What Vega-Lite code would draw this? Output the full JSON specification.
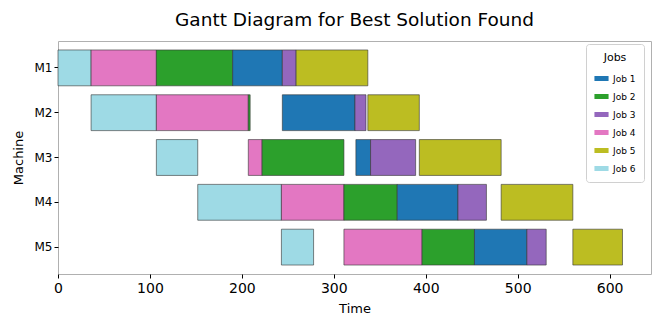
{
  "$schema": "https://vega.github.io/schema/vega-lite/v6.json",
  "width": 593,
  "height": 233,
  "autosize": {"type": "none"},
  "padding": {"left": 58, "top": 41, "right": 3, "bottom": 42},
  "background": "white",
  "title": {"text": "Gantt Diagram for Best Solution Found", "font": "DejaVu Sans", "fontSize": 18.5, "fontWeight": "normal", "color": "black", "offset": 12, "anchor": "middle"},
  "config": {
    "view": {"stroke": "#b0b0b0", "strokeWidth": 1},
    "font": "DejaVu Sans"
  },
  "data": {
    "values": [
      {"machine": "M1", "job": "Job 6", "start": 0, "end": 36},
      {"machine": "M1", "job": "Job 4", "start": 36, "end": 107},
      {"machine": "M1", "job": "Job 2", "start": 107, "end": 190},
      {"machine": "M1", "job": "Job 1", "start": 190, "end": 244},
      {"machine": "M1", "job": "Job 3", "start": 244, "end": 259},
      {"machine": "M1", "job": "Job 5", "start": 259, "end": 337},
      {"machine": "M2", "job": "Job 6", "start": 36, "end": 107},
      {"machine": "M2", "job": "Job 4", "start": 107, "end": 207},
      {"machine": "M2", "job": "Job 2", "start": 207, "end": 209},
      {"machine": "M2", "job": "Job 1", "start": 244, "end": 323},
      {"machine": "M2", "job": "Job 3", "start": 323, "end": 335},
      {"machine": "M2", "job": "Job 5", "start": 337, "end": 393},
      {"machine": "M3", "job": "Job 6", "start": 107, "end": 152},
      {"machine": "M3", "job": "Job 4", "start": 207, "end": 222},
      {"machine": "M3", "job": "Job 2", "start": 222, "end": 311},
      {"machine": "M3", "job": "Job 1", "start": 324, "end": 340},
      {"machine": "M3", "job": "Job 3", "start": 340, "end": 389},
      {"machine": "M3", "job": "Job 5", "start": 393, "end": 482},
      {"machine": "M4", "job": "Job 6", "start": 152, "end": 243},
      {"machine": "M4", "job": "Job 4", "start": 243, "end": 311},
      {"machine": "M4", "job": "Job 2", "start": 311, "end": 369},
      {"machine": "M4", "job": "Job 1", "start": 369, "end": 435},
      {"machine": "M4", "job": "Job 3", "start": 435, "end": 466},
      {"machine": "M4", "job": "Job 5", "start": 482, "end": 560},
      {"machine": "M5", "job": "Job 6", "start": 243, "end": 278},
      {"machine": "M5", "job": "Job 4", "start": 311, "end": 396},
      {"machine": "M5", "job": "Job 2", "start": 396, "end": 453},
      {"machine": "M5", "job": "Job 1", "start": 453, "end": 510},
      {"machine": "M5", "job": "Job 3", "start": 510, "end": 531},
      {"machine": "M5", "job": "Job 5", "start": 560, "end": 614}
    ]
  },
  "mark": {"type": "bar", "stroke": "#333333", "strokeOpacity": 0.6, "strokeWidth": 1, "cornerRadius": 0},
  "encoding": {
    "y": {
      "field": "machine", "type": "nominal",
      "scale": {"paddingInner": 0.2, "paddingOuter": 0.2},
      "axis": {"title": "Machine", "titleFontSize": 13, "titleFontWeight": "normal", "titleColor": "black", "titlePadding": 9, "labelFontSize": 12, "labelColor": "black", "labelPadding": 2, "tickColor": "black", "tickSize": 4, "domain": false, "grid": false}
    },
    "x": {
      "field": "start", "type": "quantitative",
      "scale": {"domain": [0, 645], "nice": false},
      "axis": {"title": "Time", "titleFontSize": 13, "titleFontWeight": "normal", "titleColor": "black", "titlePadding": 7, "labelFontSize": 14, "labelColor": "black", "labelPadding": 3, "values": [0, 100, 200, 300, 400, 500, 600], "tickColor": "black", "tickSize": 4, "domain": false, "grid": false, "labelFlush": false}
    },
    "x2": {"field": "end"},
    "color": {
      "field": "job", "type": "nominal",
      "scale": {"domain": ["Job 1", "Job 2", "Job 3", "Job 4", "Job 5", "Job 6"], "range": ["#1f77b4", "#2ca02c", "#9467bd", "#e377c2", "#bcbd22", "#9edae5"]},
      "legend": {
        "title": "Jobs", "orient": "none", "legendX": 528, "legendY": 3,
        "titleFontSize": 11, "titleFontWeight": "normal", "titleColor": "black", "titleAnchor": "middle",
        "labelFontSize": 9, "labelColor": "black",
        "symbolType": "M-1,-0.35H1V0.35H-1Z", "symbolSize": 200, "symbolStrokeWidth": 0,
        "strokeColor": "#d0d0d0", "fillColor": "white", "cornerRadius": 3, "padding": 8, "rowPadding": 5, "titlePadding": 8
      }
    }
  }
}
